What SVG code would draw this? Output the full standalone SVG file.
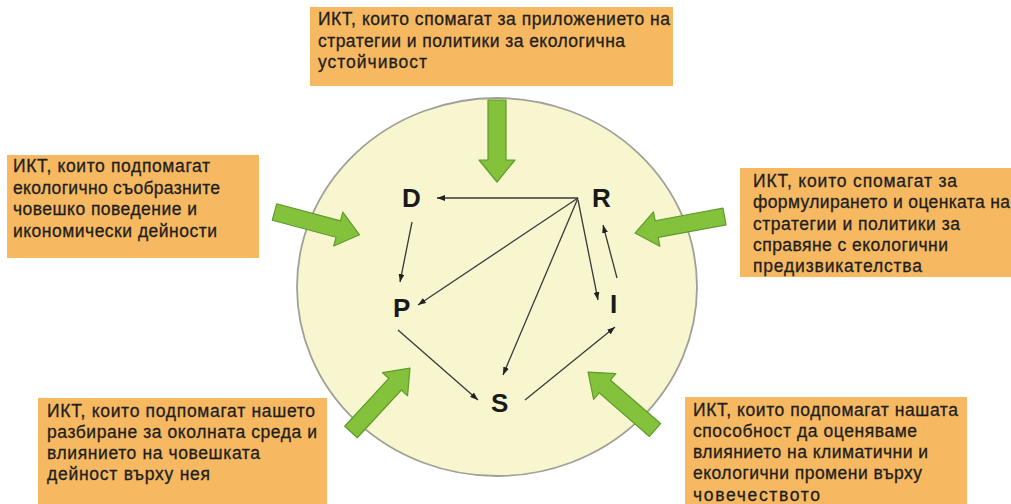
<svg xmlns="http://www.w3.org/2000/svg" width="1011" height="504" viewBox="0 0 1011 504">
<style>
.box{fill:#f6b961}
.t{font-family:"Liberation Sans",Arial,sans-serif;font-size:17.5px;fill:#1e1e1e;stroke:#1e1e1e;stroke-width:0.3}
.lbl{font-family:"Liberation Sans",Arial,sans-serif;font-size:26px;font-weight:bold;fill:#1a1a1a}
.ga{fill:#84c23c;stroke:#5f9a2c;stroke-width:1.2;stroke-linejoin:round}
.cn{stroke:#3a3a3a;stroke-width:1.3;fill:none;marker-end:url(#ah)}
</style>
<defs>
<marker id="ah" markerWidth="8" markerHeight="6" refX="8" refY="3" orient="auto" markerUnits="userSpaceOnUse">
<path d="M0,0 L8,3 L0,6 z" fill="#222"/>
</marker>
</defs>
<rect width="1011" height="504" fill="#ffffff"/>
<g id="circle">
<ellipse cx="497" cy="287" rx="200" ry="189" fill="#f8f6cf" stroke="#a0a098" stroke-width="1.8"/>
</g>
<g id="box-top">
<rect class="box" x="310" y="7" width="363" height="79"/>
<text class="t" x="318" y="25" textLength="352" lengthAdjust="spacing">ИКТ, които спомагат за приложението на</text>
<text class="t" x="318" y="47" textLength="307" lengthAdjust="spacing">стратегии и политики за екологична</text>
<text class="t" x="318" y="68" textLength="109" lengthAdjust="spacing">устойчивост</text>
</g>
<g id="box-left">
<rect class="box" x="7" y="155" width="252" height="103"/>
<text class="t" x="13" y="172" textLength="197" lengthAdjust="spacing">ИКТ, които подпомагат</text>
<text class="t" x="13" y="193.5" textLength="207" lengthAdjust="spacing">екологично съобразните</text>
<text class="t" x="13" y="215" textLength="184" lengthAdjust="spacing">човешко поведение и</text>
<text class="t" x="13" y="236.5" textLength="204" lengthAdjust="spacing">икономически дейности</text>
</g>
<g id="box-right">
<rect class="box" x="740" y="168" width="271" height="109"/>
<text class="t" x="753" y="187" textLength="204" lengthAdjust="spacing">ИКТ, които спомагат за</text>
<text class="t" x="753" y="208" textLength="257" lengthAdjust="spacing">формулирането и оценката на</text>
<text class="t" x="753" y="229.5" textLength="207" lengthAdjust="spacing">стратегии и политики за</text>
<text class="t" x="753" y="251" textLength="195" lengthAdjust="spacing">справяне с екологични</text>
<text class="t" x="753" y="272" textLength="169" lengthAdjust="spacing">предизвикателства</text>
</g>
<g id="box-bottom-left">
<rect class="box" x="38" y="398" width="289" height="106"/>
<text class="t" x="47" y="417" textLength="268" lengthAdjust="spacing">ИКТ, които подпомагат нашето</text>
<text class="t" x="47" y="438" textLength="270" lengthAdjust="spacing">разбиране за околната среда и</text>
<text class="t" x="47" y="459" textLength="213" lengthAdjust="spacing">влиянието на човешката</text>
<text class="t" x="47" y="480" textLength="163" lengthAdjust="spacing">дейност върху нея</text>
</g>
<g id="box-bottom-right">
<rect class="box" x="685" y="397" width="282" height="107"/>
<text class="t" x="693" y="416" textLength="265" lengthAdjust="spacing">ИКТ, които подпомагат нашата</text>
<text class="t" x="693" y="437" textLength="224" lengthAdjust="spacing">способност да оценяваме</text>
<text class="t" x="693" y="458" textLength="235" lengthAdjust="spacing">влиянието на климатични и</text>
<text class="t" x="693" y="479" textLength="229" lengthAdjust="spacing">екологични промени върху</text>
<text class="t" x="693" y="501" textLength="127" lengthAdjust="spacing">човечеството</text>
</g>
<g id="green-arrows">
<polygon class="ga" transform="translate(497,100) rotate(90)" points="0,-9 60,-9 60,-18 82,0 60,18 60,9 0,9"/>
<polygon class="ga" transform="translate(274.5,212) rotate(15)" points="0,-8.5 66,-8.5 66,-17.5 88,0 66,17.5 66,8.5 0,8.5"/>
<polygon class="ga" transform="translate(724.5,216.5) rotate(169.5)" points="0,-8.5 69,-8.5 69,-17.5 91,0 69,17.5 69,8.5 0,8.5"/>
<polygon class="ga" transform="translate(351,432) rotate(-47.3)" points="0,-8.5 65,-8.5 65,-17 87,0 65,17 65,8.5 0,8.5"/>
<polygon class="ga" transform="translate(655,430) rotate(-139.1)" points="0,-8.5 66.5,-8.5 66.5,-17 88.5,0 66.5,17 66.5,8.5 0,8.5"/>
</g>
<g id="connectors">
<line class="cn" x1="578" y1="198" x2="437" y2="198"/>
<line class="cn" x1="412" y1="222" x2="400" y2="282"/>
<line class="cn" x1="578" y1="198" x2="418" y2="305"/>
<line class="cn" x1="578" y1="198" x2="503" y2="375"/>
<line class="cn" x1="578" y1="200" x2="598" y2="300"/>
<line class="cn" x1="617" y1="278" x2="603" y2="225"/>
<line class="cn" x1="398" y1="330" x2="478" y2="400"/>
<line class="cn" x1="525" y1="400" x2="615" y2="327"/>
</g>
<g id="node-D"><text class="lbl" x="402" y="207">D</text></g>
<g id="node-R"><text class="lbl" x="592" y="207">R</text></g>
<g id="node-P"><text class="lbl" x="393" y="317">P</text></g>
<g id="node-I"><text class="lbl" x="610" y="313">I</text></g>
<g id="node-S"><text class="lbl" x="491" y="412">S</text></g>
</svg>
